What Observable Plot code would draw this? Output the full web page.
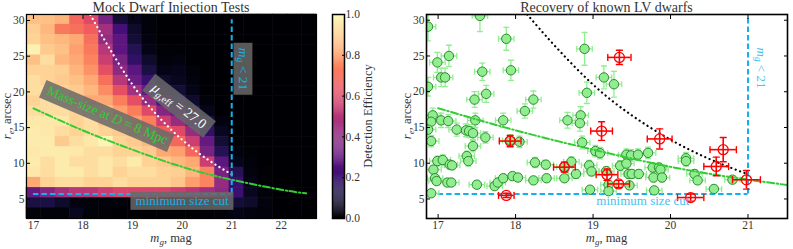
<!DOCTYPE html>
<html><head><meta charset="utf-8">
<script src="https://cdn.jsdelivr.net/npm/d3@7"></script>
<script src="https://cdn.jsdelivr.net/npm/@observablehq/plot@0.6"></script>
<style>
body{margin:0;background:#fff;}
#root{position:relative;width:793px;height:249px;overflow:hidden;font-family:"Liberation Serif","DejaVu Serif",serif;color:#333;}
#root svg{position:absolute;}
#root svg text{font-family:"Liberation Serif","DejaVu Serif",serif !important;}
.t{position:absolute;white-space:nowrap;line-height:1.1;}
sub{font-size:0.72em;vertical-align:-0.28em;line-height:0;}
</style></head>
<body><div id="root"></div>
<script>
// ---------------- data ----------------
// Left panel: detection efficiency grid (rows from largest r_e to smallest, columns from bright to faint m_g)
const magRange = [16.86, 22.71];
const reRange = [2.27, 30.84];
const efficiency = [
  [0.87,0.87,0.84,0.68,0.60,0.35,0.10,0.05,0.02,0,0,0,0,0,0,0,0,0,0,0],
  [0.90,0.85,0.72,0.70,0.66,0.45,0.22,0.08,0.02,0,0,0,0,0,0,0,0,0,0,0],
  [0.91,0.87,0.85,0.82,0.70,0.42,0.28,0.10,0.03,0,0,0,0,0,0,0,0,0,0,0],
  [0.97,0.89,0.87,0.80,0.72,0.50,0.28,0.15,0.04,0.01,0.01,0,0,0,0,0,0,0,0,0],
  [0.87,0.93,0.85,0.82,0.74,0.55,0.35,0.18,0.08,0.02,0.03,0,0,0,0,0,0,0,0,0],
  [0.91,0.91,0.90,0.84,0.77,0.62,0.40,0.28,0.12,0.04,0.05,0.02,0,0,0,0,0,0,0,0],
  [0.93,0.91,0.89,0.87,0.82,0.70,0.50,0.32,0.20,0.08,0.06,0.03,0,0,0,0,0,0,0,0],
  [0.93,0.93,0.91,0.89,0.85,0.76,0.62,0.45,0.30,0.15,0.10,0.04,0,0,0,0,0,0,0,0],
  [0.91,0.93,0.93,0.90,0.82,0.82,0.73,0.62,0.42,0.25,0.18,0.08,0.02,0,0,0,0,0,0,0],
  [0.93,0.93,0.93,0.91,0.89,0.88,0.80,0.73,0.60,0.38,0.30,0.15,0.05,0,0,0,0,0,0,0],
  [0.95,0.95,0.95,0.91,0.93,0.88,0.85,0.80,0.73,0.55,0.42,0.28,0.10,0.03,0,0,0,0,0,0],
  [0.96,0.95,0.93,0.91,0.93,0.91,0.89,0.85,0.80,0.66,0.60,0.42,0.18,0.06,0,0,0,0,0,0],
  [0.96,0.96,0.89,0.93,0.95,0.98,0.91,0.89,0.85,0.76,0.68,0.55,0.30,0.10,0.01,0,0,0,0,0],
  [0.95,0.96,0.96,0.95,0.93,0.93,0.91,0.91,0.89,0.82,0.80,0.68,0.35,0.15,0.03,0.01,0,0,0,0],
  [0.96,0.93,0.96,0.93,0.93,0.95,0.93,0.96,0.91,0.89,0.85,0.82,0.55,0.28,0.05,0.02,0,0,0,0],
  [0.95,0.93,0.96,0.96,0.93,0.95,0.91,0.93,0.93,0.91,0.90,0.85,0.74,0.35,0.15,0.03,0.01,0,0,0],
  [0.82,0.91,0.93,0.93,0.91,0.91,0.93,0.91,0.91,0.91,0.88,0.80,0.74,0.42,0.20,0.04,0.01,0,0,0],
  [0.30,0.38,0.45,0.50,0.50,0.55,0.58,0.58,0.58,0.58,0.55,0.50,0.45,0.40,0.20,0.06,0.02,0,0,0],
  [0.12,0.12,0.08,0.03,0.02,0.02,0.02,0.01,0.01,0.01,0.02,0.02,0.04,0.08,0.10,0.08,0.03,0,0,0],
  [0.02,0.02,0.02,0.06,0.02,0.01,0,0,0,0,0,0,0.01,0.02,0.04,0.03,0.02,0,0,0]
];

// Model curves
const muCurveMag = [18.15, 18.5, 19.0, 19.5, 20.0, 20.5, 21.0];
const muCurveRe  = [30.8, 26.5, 21.0, 16.7, 13.3, 10.6, 8.45];
const massSizeMag = [17.0, 18.0, 19.0, 20.0, 21.0, 22.0, 22.5];
const massSizeRe  = [17.7, 14.6, 11.9, 9.5, 7.7, 6.3, 5.8];
const magLimit = 21;
const sizeCut = 5.7;
const sizeCutStartMag = 17;

// Right panel: known LV dwarfs [m_g, r_e, r_e error]
const recoveredMag = [16.87,17.54,17.88,16.99,17.14,17.04,17.09,16.87,17.57,17.94,17.47,17.62,18.23,18.12,16.93,16.91,16.87,17.04,17.13,17.24,17.36,17.40,17.45,17.48,17.61,17.84,18.05,17.93,16.91,17.45,16.99,17.06,17.15,17.18,17.37,17.39,16.94,16.96,16.98,17.12,17.17,17.50,17.73,17.77,17.84,17.96,18.03,18.25,18.39,18.23,18.40,16.91,18.89,19.14,19.27,18.92,18.84,18.67,18.83,18.86,19.03,19.09,18.63,18.72,18.63,18.78,18.95,18.98,18.96,19.17,19.20,19.20,19.43,19.49,19.58,19.71,19.35,19.43,19.46,19.50,19.59,19.47,19.77,19.78,19.85,19.87,19.89,19.79,20.20,20.20,20.31,20.35,20.56,20.80];
const recoveredRe = [29.1,30.6,27.4,24.1,25.0,22.0,22.0,20.7,22.8,23.0,18.9,19.7,18.9,17.3,16.7,15.8,14.7,16.0,15.9,14.7,14.6,14.5,14.2,16.0,13.6,16.0,13.0,13.2,13.1,12.4,10.3,10.45,9.8,9.7,11.0,10.3,9.1,7.9,7.5,7.3,7.3,7.0,6.8,7.3,7.9,8.2,8.0,10.1,9.8,7.6,7.9,5.8,26.0,22.0,21.05,19.85,16.7,16.0,15.6,12.9,11.7,11.4,9.5,10.2,7.9,8.5,9.7,8.85,6.3,8.9,7.0,6.1,11.2,11.1,11.2,11.45,9.65,9.95,8.5,8.5,8.5,6.9,9.4,8.0,9.4,9.1,8.0,6.2,10.7,10.3,8.5,7.6,6.4,7.7];
const recoveredReErr = [2.0,2.2,1.6,1.4,1.5,1.3,1.3,1.3,1.2,1.4,1.1,1.2,1.2,1.0,1.0,1.0,0.9,1.0,0.9,0.9,0.9,0.9,0.9,1.0,0.8,1.0,0.8,0.8,0.8,0.8,0.7,0.7,0.6,0.6,0.7,0.7,0.6,0.5,0.5,0.5,0.5,0.5,0.5,0.5,0.5,0.5,0.5,0.7,0.6,0.5,0.5,0.4,2.3,1.6,1.8,1.5,1.2,1.1,1.1,0.9,0.8,0.8,0.7,0.7,0.5,0.6,0.7,0.6,0.4,0.6,0.5,0.4,0.8,0.8,0.8,0.8,0.7,0.7,0.6,0.6,0.6,0.5,0.6,0.6,0.6,0.6,0.6,0.4,0.8,0.7,0.6,0.5,0.5,0.5];
const recoveredMagErr = 0.1;

// Missed dwarfs [m_g, r_e, m_g error, r_e error]
const missedMag = [17.93, 17.88, 18.63, 19.11, 19.18, 19.33, 19.34, 19.86, 20.26, 20.59, 20.68, 20.98];
const missedRe  = [13.1, 5.5, 9.45, 14.5, 8.4, 7.1, 24.8, 13.4, 5.2, 9.55, 11.9, 7.68];
const missedMagErr = [0.14, 0.10, 0.14, 0.14, 0.14, 0.14, 0.15, 0.16, 0.17, 0.16, 0.17, 0.18];
const missedReErr  = [0.8, 0.3, 0.7, 1.3, 0.8, 0.5, 1.0, 1.4, 0.5, 1.3, 1.7, 1.3];

// Ticks
const leftMagTicks = [17, 18, 19, 20, 21, 22];
const rightMagTicks = [17, 18, 19, 20, 21];
const reTicks = [5, 10, 15, 20, 25, 30];
const effTicks = [0, 0.2, 0.4, 0.6, 0.8, 1.0];

// ---------------- build tables ----------------
const nRows = efficiency.length, nCols = efficiency[0].length;
const dMag = (magRange[1] - magRange[0]) / nCols;
const dRe = (reRange[1] - reRange[0]) / nRows;
const cells = [];
efficiency.forEach((row, i) => row.forEach((v, j) => {
  const y2 = reRange[1] - i * dRe;
  cells.push({x1: magRange[0] + j * dMag, x2: magRange[0] + (j + 1) * dMag, y1: y2 - dRe, y2, v});
}));
const muCurve = muCurveMag.map((m, i) => ({m, r: muCurveRe[i]}));
const massSize = massSizeMag.map((m, i) => ({m, r: massSizeRe[i]}));
const recovered = recoveredMag.map((m, i) => ({m, r: recoveredRe[i], dm: recoveredMagErr, dr: recoveredReErr[i]}));
const missed = missedMag.map((m, i) => ({m, r: missedRe[i], dm: missedMagErr[i], dr: missedReErr[i]}));

const CYAN = "#17b0ec", GREEN = "#33cc33";
const capShape = {draw(ctx, l) { ctx.moveTo(0, -l / 2); ctx.lineTo(0, l / 2); }};
const fontStyle = {fontFamily: "Liberation Serif", fontSize: "11.5px", color: "#333", background: "transparent", overflow: "visible"};
const intFmt = d3.format("d");

function axes(xTicks) {
  return [
    Plot.axisX({ticks: xTicks, tickFormat: intFmt, tickSize: -4, tickPadding: 6, stroke: "black", label: null}),
    Plot.axisX({anchor: "top", ticks: xTicks, tickSize: -4, tickFormat: () => "", stroke: "black", label: null}),
    Plot.axisY({ticks: reTicks, tickFormat: intFmt, tickSize: -4, tickPadding: 6, stroke: "black", label: null}),
    Plot.axisY({anchor: "right", ticks: reTicks, tickSize: -4, tickFormat: () => "", stroke: "black", label: null})
  ];
}

// ---------------- left panel ----------------
const left = Plot.plot({
  width: 330, height: 249, marginLeft: 26, marginRight: 14, marginTop: 14, marginBottom: 31,
  style: fontStyle,
  x: {domain: magRange},
  y: {domain: reRange},
  color: {type: "linear", scheme: "magma", domain: [0, 1]},
  marks: [
    Plot.rect(cells, {x1: "x1", x2: "x2", y1: "y1", y2: "y2", fill: "v", inset: -0.3}),
    Plot.line(massSize, {x: "m", y: "r", curve: "natural", stroke: GREEN, strokeWidth: 2, strokeDasharray: "7,2.5,1.5,2.5", clip: true}),
    Plot.line(muCurve, {x: "m", y: "r", curve: "natural", stroke: "white", strokeWidth: 2.2, strokeLinecap: "round", strokeDasharray: "0.1,4.6", clip: true}),
    Plot.ruleX([magLimit], {y1: sizeCut, y2: 30.1, stroke: CYAN, strokeWidth: 2, strokeDasharray: "5.5,3"}),
    Plot.ruleY([sizeCut], {x1: sizeCutStartMag, x2: magLimit, stroke: CYAN, strokeWidth: 2, strokeDasharray: "5.5,3"}),
    Plot.frame({stroke: "black", strokeWidth: 1.2}),
    ...axes(leftMagTicks)
  ]
});

// ---------------- colorbar ----------------
const ramp = d3.range(0, 1, 0.005);
const cbar = Plot.plot({
  width: 80, height: 249, marginLeft: 12, marginRight: 56, marginTop: 14, marginBottom: 31,
  style: fontStyle,
  x: {domain: [0, 1], axis: null},
  y: {domain: [0, 1]},
  color: {type: "linear", scheme: "magma", domain: [0, 1]},
  marks: [
    Plot.rect(ramp, {x1: 0, x2: 1, y1: d => d, y2: d => d + 0.0055, fill: d => d + 0.0025}),
    Plot.frame({stroke: "black", strokeWidth: 1.5}),
    Plot.axisY({anchor: "right", ticks: effTicks, tickFormat: d3.format(".1f"), tickSize: -3, tickPadding: 4, stroke: "black", label: null})
  ]
});

// ---------------- right panel ----------------
const right = Plot.plot({
  width: 393, height: 249, marginLeft: 26, marginRight: 6, marginTop: 14, marginBottom: 31,
  style: fontStyle,
  x: {domain: [16.85, 21.51]},
  y: {domain: [2.27, 30.8]},
  marks: [
    Plot.line(muCurve, {x: "m", y: "r", curve: "natural", stroke: "black", strokeWidth: 2.2, strokeLinecap: "round", strokeDasharray: "0.1,4.6", clip: true}),
    Plot.ruleX([magLimit], {y1: sizeCut, y2: 30.8, stroke: CYAN, strokeWidth: 2, strokeDasharray: "5.5,3"}),
    Plot.ruleY([sizeCut], {x1: sizeCutStartMag, x2: magLimit, stroke: CYAN, strokeWidth: 2, strokeDasharray: "5.5,3"}),
    Plot.ruleX(recovered, {x: "m", y1: d => d.r - d.dr, y2: d => d.r + d.dr, stroke: "#90ee90", strokeWidth: 1.3, clip: true}),
    Plot.ruleY(recovered, {y: "r", x1: d => d.m - d.dm, x2: d => d.m + d.dm, stroke: "#90ee90", strokeWidth: 1.3, clip: true}),
    Plot.vector(recovered, {x: "m", y: d => d.r + d.dr, length: 5, rotate: 90, anchor: "start", shape: capShape, stroke: "#90ee90", strokeWidth: 1.3, clip: true}),
    Plot.vector(recovered, {x: "m", y: d => d.r - d.dr, length: 5, rotate: 90, anchor: "start", shape: capShape, stroke: "#90ee90", strokeWidth: 1.3, clip: true}),
    Plot.vector(recovered, {x: d => d.m - d.dm, y: "r", length: 5, rotate: 0, anchor: "start", shape: capShape, stroke: "#90ee90", strokeWidth: 1.3, clip: true}),
    Plot.vector(recovered, {x: d => d.m + d.dm, y: "r", length: 5, rotate: 0, anchor: "start", shape: capShape, stroke: "#90ee90", strokeWidth: 1.3, clip: true}),
    Plot.dot(recovered, {x: "m", y: "r", r: 4.7, fill: "#90ee90", stroke: "#2e8b2e", strokeWidth: 1, clip: true}),
    Plot.line(massSize, {x: "m", y: "r", curve: "natural", stroke: GREEN, strokeWidth: 2, strokeDasharray: "7,2.5,1.5,2.5", clip: true}),
    Plot.ruleX(missed, {x: "m", y1: d => d.r - d.dr, y2: d => d.r + d.dr, stroke: "red", strokeWidth: 1.6}),
    Plot.ruleY(missed, {y: "r", x1: d => d.m - d.dm, x2: d => d.m + d.dm, stroke: "red", strokeWidth: 1.6}),
    Plot.vector(missed, {x: "m", y: d => d.r + d.dr, length: 6, rotate: 90, anchor: "start", shape: capShape, stroke: "red", strokeWidth: 1.4}),
    Plot.vector(missed, {x: "m", y: d => d.r - d.dr, length: 6, rotate: 90, anchor: "start", shape: capShape, stroke: "red", strokeWidth: 1.4}),
    Plot.vector(missed, {x: d => d.m - d.dm, y: "r", length: 6, rotate: 0, anchor: "start", shape: capShape, stroke: "red", strokeWidth: 1.4}),
    Plot.vector(missed, {x: d => d.m + d.dm, y: "r", length: 6, rotate: 0, anchor: "start", shape: capShape, stroke: "red", strokeWidth: 1.4}),
    Plot.dot(missed, {x: "m", y: "r", r: 5, fill: "none", stroke: "red", strokeWidth: 1.3}),
    Plot.frame({stroke: "black", strokeWidth: 1.6}),
    ...axes(rightMagTicks)
  ]
});

// ---------------- assemble ----------------
const root = document.getElementById("root");
function put(el, x, y) { el.style.left = x + "px"; el.style.top = y + "px"; root.appendChild(el); }
put(left, 0, 0);
put(cbar, 320, 0);
put(right, 400, 0);

function text(html, x, y, o = {}) {
  const d = document.createElement("div");
  d.className = "t";
  d.innerHTML = html;
  Object.assign(d.style, {
    left: x + "px", top: y + "px",
    transform: `translate(-50%,-50%) rotate(${o.angle || 0}deg)`,
    color: o.color || "#333",
    fontSize: (o.size || 12) + "px",
    background: o.box ? "rgba(105,105,105,0.85)" : "none",
    padding: o.box ? (o.pad || "1px 4px") : "0"
  });
  root.appendChild(d);
  return d;
}
const lx = left.scale("x"), ly = left.scale("y");
const rx = right.scale("x"), ry = right.scale("y");

// titles & axis labels
text("Mock Dwarf Injection Tests", 171, 7.5, {size: 14});
text("Recovery of known LV dwarfs", 606.5, 7.5, {size: 14});
text("<i>m</i><sub><i>g</i></sub>, mag", 171, 239, {size: 12.5});
text("<i>m</i><sub><i>g</i></sub>, mag", 606.5, 239, {size: 12.5});
text("<i>r</i><sub><i>e</i></sub>, arcsec", 8, 116, {size: 12.5, angle: -90});
text("<i>r</i><sub><i>e</i></sub>, arcsec", 408, 116, {size: 12.5, angle: -90});
text("Detection Efficiency", 369, 116, {size: 12.5, angle: -90});

// annotations (data coordinates)
const leftNotes = [
  {m: 18.49, r: 16.6, angle: 23, color: GREEN, size: 13.5, pad: "2px 5px", html: "Mass-size at <i>D</i> = 8 Mpc"},
  {m: 19.95, r: 17.9, angle: 38, color: "#ffffff", size: 14, pad: "3px 6px", html: "<i>μ</i><sub><i>g</i>,eff</sub> = 27.0"},
  {m: 21.24, r: 23.2, angle: 90, color: CYAN, size: 13.5, pad: "2px 5px", html: "<i>m</i><sub><i>g</i></sub> &lt; 21"},
  {m: 20.01, r: 4.72, angle: 0, color: CYAN, size: 13, pad: "2px 5px", html: "minimum size cut"}
];
leftNotes.forEach(n => text(n.html, lx.apply(n.m), ly.apply(n.r), {angle: n.angle, color: n.color, size: n.size, box: true, pad: n.pad}));
const rightNotes = [
  {m: 21.17, r: 23.2, angle: 90, html: "<i>m</i><sub><i>g</i></sub> &lt; 21"},
  {m: 19.65, r: 4.69, angle: 0, html: "minimum size cut"}
];
rightNotes.forEach(n => text(n.html, 400 + rx.apply(n.m), ry.apply(n.r), {angle: n.angle, color: "#45c2f2", size: 13}));
</script>
</body></html>
